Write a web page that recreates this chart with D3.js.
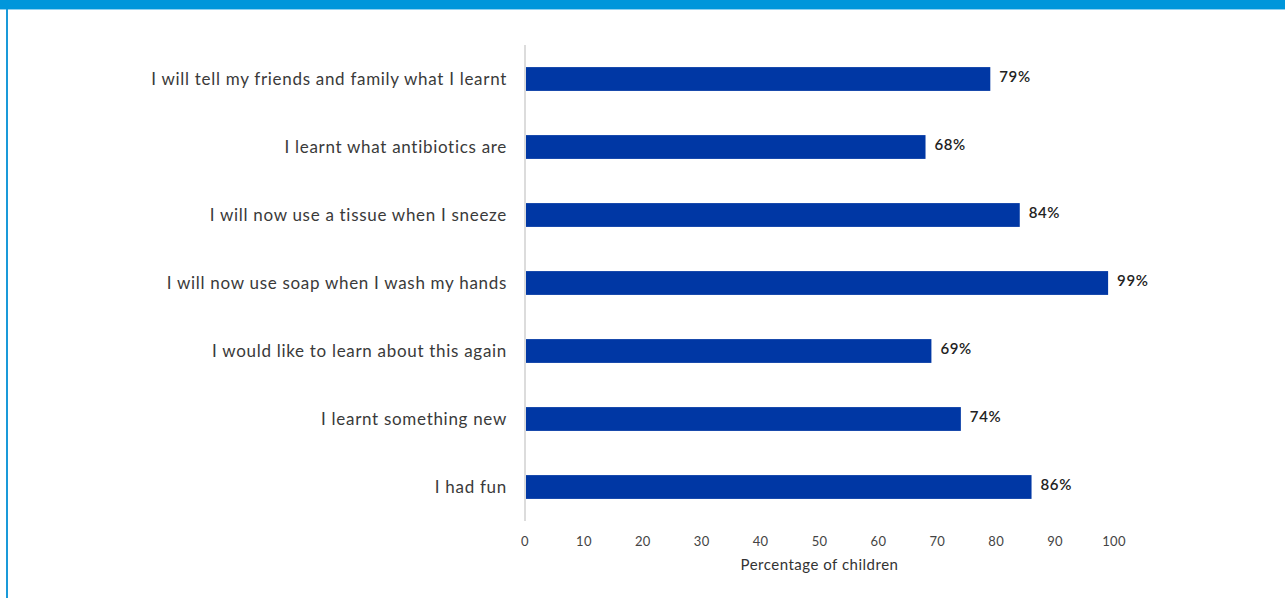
<!DOCTYPE html>
<html>
<head>
<meta charset="utf-8">
<script src="https://cdn.jsdelivr.net/npm/d3@7"></script>
<style>
  body { margin: 0; background: #fff; }
  svg { display: block; font-family: Lato, "Open Sans", sans-serif; }
</style>
</head>
<body>
<svg id="chart" width="1285" height="598"></svg>
<script>
var categories = [
  "I will tell my friends and family what I learnt",
  "I learnt what antibiotics are",
  "I will now use a tissue when I sneeze",
  "I will now use soap when I wash my hands",
  "I would like to learn about this again",
  "I learnt something new",
  "I had fun"
];
var values = [79, 68, 84, 99, 69, 74, 86];
var ticks = [0, 10, 20, 30, 40, 50, 60, 70, 80, 90, 100];

var svg = d3.select("#chart");

// frame: top band and left rule
svg.append("rect").attr("x", 0).attr("y", 0).attr("width", 1285).attr("height", 9).attr("fill", "#0096db");
svg.append("rect").attr("x", 0).attr("y", 9).attr("width", 1285).attr("height", 1).attr("fill", "#8fd0f0");
svg.append("rect").attr("x", 6).attr("y", 9).attr("width", 2).attr("height", 589).attr("fill", "#1a9ad9");

var x = d3.scaleLinear().domain([0, 100]).range([525, 1114]);
var y = d3.scaleBand().domain(categories).range([45, 521]).paddingInner(0.65).paddingOuter(0.325);

// axis line
svg.append("line")
  .attr("x1", x(0)).attr("x2", x(0))
  .attr("y1", 45).attr("y2", 521)
  .attr("stroke", "#d0d0d0").attr("stroke-width", 1.5);

svg.selectAll("rect.bar").data(values).enter().append("rect")
  .attr("class", "bar")
  .attr("x", x(0) + 1)
  .attr("y", function(d, i) { return y(categories[i]); })
  .attr("width", function(d) { return x(d) - x(0) - 1; })
  .attr("height", y.bandwidth())
  .attr("fill", "#0037a4");

svg.selectAll("text.val").data(values).enter().append("text")
  .attr("class", "val")
  .attr("x", function(d) { return x(d) + 9; })
  .attr("y", function(d, i) { return y(categories[i]) + y.bandwidth() / 2 - 2; })
  .attr("dy", "0.35em")
  .attr("font-size", 15)
  .attr("font-weight", 600)
  .attr("letter-spacing", 0.6)
  .attr("fill", "#222")
  .text(function(d) { return d + "%"; });

svg.selectAll("text.cat").data(categories).enter().append("text")
  .attr("class", "cat")
  .attr("x", 507)
  .attr("y", function(d) { return y(d) + y.bandwidth() / 2; })
  .attr("dy", "0.35em")
  .attr("text-anchor", "end")
  .attr("font-size", 17)
  .attr("letter-spacing", 0.7)
  .attr("fill", "#3a3a3a")
  .text(function(d) { return d; });

svg.selectAll("text.tick").data(ticks).enter().append("text")
  .attr("class", "tick")
  .attr("x", function(d) { return x(d); })
  .attr("y", 541)
  .attr("dy", "0.35em")
  .attr("text-anchor", "middle")
  .attr("font-size", 13)
  .attr("letter-spacing", 0.3)
  .attr("fill", "#444")
  .text(function(d) { return d; });

svg.append("text")
  .attr("x", (x(0) + x(100)) / 2)
  .attr("y", 565)
  .attr("dy", "0.35em")
  .attr("text-anchor", "middle")
  .attr("font-size", 15)
  .attr("letter-spacing", 0.5)
  .attr("fill", "#333")
  .text("Percentage of children");
</script>
</body>
</html>
